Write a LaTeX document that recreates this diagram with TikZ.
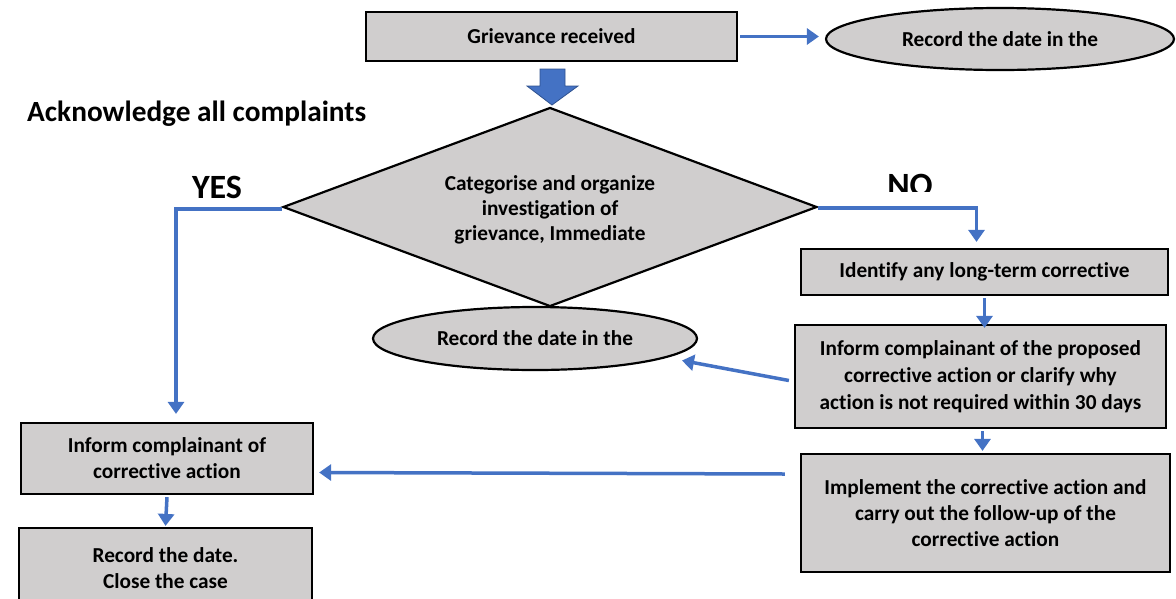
\documentclass[tikz,border=0pt]{standalone}
\usepackage{fontspec}
\setmainfont{Carlito}[Ligatures=NoCommon]
\usetikzlibrary{shapes.geometric,arrows.meta}
\definecolor{boxgray}{HTML}{D0CECE}
\definecolor{arrblue}{HTML}{4472C4}
\definecolor{arrdark}{HTML}{2F528F}
\begin{document}
\begin{tikzpicture}[x=1pt,y=-1pt,
  txt/.style={font=\bfseries\fontsize{21.3}{26}\selectfont,align=center},
  box/.style={txt,draw=black,line width=2.2pt,fill=boxgray,inner sep=0pt},
  oval/.style={txt,ellipse,draw=black,line width=2.2pt,fill=boxgray,inner sep=0pt},
  conn/.style={draw=arrblue,line width=3.5pt,-{Triangle[length=12pt,width=16pt]}}]
\useasboundingbox (0,0) rectangle (1176,598);
\node[box,minimum width=371pt,minimum height=49pt] (g) at (551.5,36.5) {Grievance received};
\node[oval,minimum width=348pt,minimum height=62pt] (ov1) at (1000,39) {Record the date in the};
\node[font=\bfseries\fontsize{29.3}{32}\selectfont,anchor=west,inner sep=0pt] (ack) at (27,114) {Acknowledge all complaints};
\node[diamond,aspect=2.68,draw=black,line width=2.2pt,fill=boxgray,inner sep=0pt,minimum width=534pt,minimum height=199pt] (d) at (550,207) {};
\node[txt,font=\bfseries\fontsize{21.3}{25}\selectfont] (dt) at (550,209.5) {Categorise and organize\\investigation of\\grievance, Immediate};
\node[font=\bfseries\fontsize{34}{36}\selectfont,inner sep=0pt] (yes) at (217,187) {YES};
\begin{scope}
\clip (850,150) rectangle (970,191);
\node[font=\bfseries\fontsize{34}{36}\selectfont,inner sep=0pt] (no) at (910,185) {NO};
\end{scope}
\node[oval,minimum width=324pt,minimum height=63pt] (ov2) at (535,338.5) {Record the date in the};
\node[box,minimum width=367pt,minimum height=46pt] (id) at (984.5,272) {Identify any long-term corrective};
\node[box,minimum width=371pt,minimum height=103pt,font=\bfseries\fontsize{21.3}{27}\selectfont] (inf2) at (980.5,376.5) {\raisebox{-1pt}{\parbox{360pt}{\centering Inform complainant of the proposed\\corrective action or clarify why\\action is not required within 30 days}}};
\node[box,minimum width=369pt,minimum height=118pt] (impl) at (985.5,513) {Implement the corrective action and\\carry out the follow-up of the\\corrective action};
\node[box,minimum width=292pt,minimum height=71pt] (inf1) at (167,458.5) {\raisebox{-3pt}{\parbox{280pt}{\centering Inform complainant of\\corrective action}}};
\node[box,minimum width=293pt,minimum height=90pt,text depth=0pt] (rec) at (165.5,573) {\raisebox{25pt}{\parbox{280pt}{\centering Record the date.\\Close the case}}};
% connectors
\draw[conn] ([xshift=2pt]g.east) -- ([xshift=-6pt]ov1.west |- g.east);
\fill[arrblue,draw=arrdark,line width=0.8pt] (540,69) -- (565,69) -- (565,86) -- (578,86) -- (552,105) -- (527,86) -- (540,86) -- cycle;
\draw[conn] ([shift={(0,2)}]d.west) -| ([shift={(9,-8)}]inf1.north);
\draw[conn] ([shift={(0,1)}]d.east) -| ([shift={(-8,-6)}]id.north);
\draw[conn] ([shift={(0,2)}]id.south) -- ([yshift=-4pt]id.south |- inf2.north);
\draw[conn] ([shift={(-5,4)}]inf2.west) -- ([shift={(147,22)}]ov2.center);
\draw[conn] ([shift={(2,2)}]inf2.south) -- ([shift={(2,-2)}]inf2.south |- impl.north);
\draw[conn] ([shift={(-15,-39)}]impl.west) -- ([shift={(5,14)}]inf1.east);
\draw[conn] ([shift={(0,2)}]inf1.south) -- ([shift={(0,-1)}]rec.north);
\end{tikzpicture}
\end{document}
